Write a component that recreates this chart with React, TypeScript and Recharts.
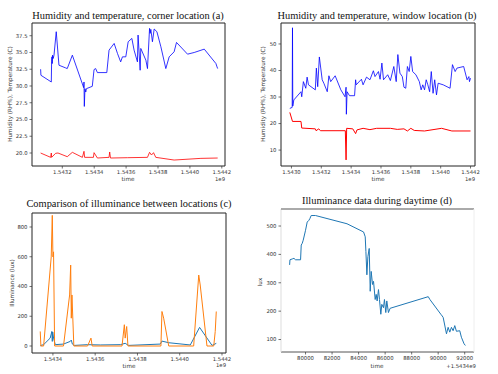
import React from "react";
import { LineChart, Line, XAxis, YAxis } from "recharts";

// (a) corner location
const cornerHumTime = [
  1543064000, 1543066000, 1543131000, 1543133000, 1543135000, 1543137000, 1543139000, 1543143000,
  1543148000, 1543162000, 1543179000, 1543221000, 1543231000, 1543263000, 1543334000, 1543336000,
  1543338000, 1543342000, 1543347000, 1543351000, 1543388000, 1543399000, 1543409000, 1543420000,
  1543479000, 1543493000, 1543525000, 1543546000, 1543566000, 1543577000, 1543598000, 1543613000,
  1543636000, 1543650000, 1543671000, 1543675000, 1543688000, 1543692000, 1543724000, 1543734000,
  1543747000, 1543751000, 1543755000, 1543765000, 1543776000, 1543793000, 1543818000, 1543849000,
  1543870000, 1543901000, 1543916000, 1543985000, 1544027000, 1544090000, 1544163000, 1544170000,
  1544174000,
];
const cornerHum = [
  32.5, 31.6, 30.6, 33.6, 34.35, 33.35, 34.6, 34.1, 34.6, 38.1, 33.1, 32.7, 32.6, 34.6, 29.75, 30.6,
  26.95, 29.6, 29.1, 29.6, 29.95, 32.45, 32.6, 32.0, 32.0, 35.35, 36.35, 34.85, 33.6, 34.35, 34.35,
  36.6, 37.1, 35.35, 33.6, 37.6, 32.35, 35.6, 33.85, 32.6, 38.6, 37.85, 38.45, 36.6, 38.5, 38.1, 35.85,
  32.6, 34.35, 35.1, 36.5, 34.75, 35.0, 35.5, 33.35, 32.85, 32.6,
];
const cornerTempTime = [
  1543064000, 1543127000, 1543131000, 1543133000, 1543158000, 1543173000, 1543231000, 1543263000,
  1543326000, 1543336000, 1543340000, 1543395000, 1543399000, 1543420000, 1543493000, 1543497000,
  1543502000, 1543608000, 1543734000, 1543747000, 1543759000, 1543772000, 1543786000, 1543901000,
  1544069000, 1544174000,
];
const cornerTemp = [
  20.0, 19.35, 20.0, 19.35, 19.95, 20.0, 19.45, 20.1, 19.35, 20.25, 19.35, 19.35, 20.05, 19.25, 19.35,
  20.15, 19.25, 19.3, 19.35, 20.1, 19.7, 20.05, 19.35, 18.95, 19.2, 19.25,
];

// (b) window location
const windowHumTime = [
  1542989000, 1543005000, 1543007000, 1543009000, 1543016000, 1543064000, 1543069000, 1543080000,
  1543096000, 1543105000, 1543114000, 1543160000, 1543167000, 1543176000, 1543187000, 1543206000,
  1543217000, 1543240000, 1543251000, 1543263000, 1543293000, 1543331000, 1543359000, 1543366000,
  1543368000, 1543373000, 1543389000, 1543423000, 1543430000, 1543434000, 1543469000, 1543480000,
  1543503000, 1543526000, 1543549000, 1543560000, 1543583000, 1543594000, 1543606000, 1543617000,
  1543645000, 1543663000, 1543686000, 1543702000, 1543713000, 1543727000, 1543743000, 1543754000,
  1543766000, 1543777000, 1543789000, 1543800000, 1543812000, 1543834000, 1543857000, 1543869000,
  1543880000, 1543892000, 1543903000, 1543914000, 1543926000, 1543937000, 1543949000, 1543960000,
  1543972000, 1543983000, 1544017000, 1544063000, 1544079000, 1544097000, 1544109000, 1544154000,
  1544177000, 1544189000, 1544193000, 1544200000,
];
const windowHum = [
  25.7, 26.1, 56.1, 26.6, 28.9, 32.0, 30.1, 35.8, 33.3, 37.5, 34.6, 32.7, 40.9, 33.9, 45.1, 36.5, 35.2,
  32.0, 38.0, 35.8, 38.0, 32.7, 30.1, 33.7, 23.5, 32.0, 30.5, 30.5, 36.5, 34.6, 36.7, 34.6, 37.5, 36.5,
  39.9, 37.7, 39.6, 36.7, 42.8, 36.5, 38.4, 36.2, 41.5, 35.8, 46.0, 39.0, 37.7, 33.7, 33.3, 41.5, 39.6,
  45.3, 39.6, 38.4, 35.8, 32.7, 34.6, 32.7, 36.5, 34.6, 32.0, 39.6, 31.4, 36.5, 30.8, 35.2, 34.6, 33.3,
  42.2, 39.6, 40.9, 41.5, 36.5, 37.7, 35.8, 37.1,
];
const windowTempTime = [
  1542989000, 1543007000, 1543064000, 1543069000, 1543160000, 1543165000, 1543183000, 1543194000,
  1543361000, 1543366000, 1543370000, 1543411000, 1543430000, 1543439000, 1543480000, 1543526000,
  1543571000, 1543663000, 1543709000, 1543754000, 1543777000, 1543800000, 1543823000, 1543892000,
  1544006000, 1544075000, 1544200000,
];
const windowTemp = [
  24.2, 20.8, 20.8, 18.3, 18.0, 17.3, 18.0, 17.3, 17.3, 6.3, 18.2, 18.0, 16.2, 17.6, 18.2, 17.7, 18.2,
  18.2, 17.8, 18.0, 17.2, 18.2, 17.4, 17.2, 18.2, 17.2, 17.2,
];

// (c) illuminance comparison
const cornerLuxTime = [
  1543340000, 1543343000, 1543356000, 1543387000, 1543395000, 1543397000, 1543399000, 1543403000,
  1543411000, 1543450000, 1543482000, 1543487000, 1543492000, 1543501000, 1543564000, 1543624000,
  1543719000, 1543742000, 1543758000, 1543908000, 1543916000, 1543948000, 1544050000, 1544094000,
  1544153000, 1544173000,
];
const cornerLux = [0, 4, 9, 53, 98, 31, 94, 53, 9, 13, 31, 40, 13, 4, 9, 7, 9, 18, 4, 13, 33, 22, 7, 125, 4, 18];
const windowLuxTime = [
  1543340000, 1543343000, 1543356000, 1543392000, 1543397000, 1543400000, 1543403000, 1543408000,
  1543450000, 1543479000, 1543484000, 1543487000, 1543490000, 1543499000, 1543564000, 1543580000,
  1543586000, 1543727000, 1543738000, 1543742000, 1543749000, 1543755000, 1543911000, 1543916000,
  1543924000, 1543948000, 1544066000, 1544090000, 1544097000, 1544129000, 1544161000, 1544168000,
  1544173000,
];
const windowLux = [
  98, 0, 0, 599, 878, 599, 633, 0, 0, 343, 544, 187, 343, 0, 0, 53, 0, 0, 143, 53, 131, 0, 0, 232, 187,
  0, 0, 477, 410, 0, 0, 98, 232,
];

// (d) daytime illuminance, seconds after 1.5434e9
const dayTime = [
  78800, 78825, 79000, 79125, 79250, 79625, 79675, 79750, 79825, 80000, 80125, 80250, 80325, 80425,
  80750, 83125, 84375, 84500, 84550, 84625, 84700, 84800, 84875, 84950, 85050, 85125, 85250, 85325,
  85400, 85500, 85575, 85675, 85750, 85875, 85950, 86050, 86125, 86250, 86375, 89250, 89375, 90200,
  90300, 90375, 90625, 90750, 90875, 91000, 91125, 91250, 91375, 91625, 91750, 91950, 92050,
];
const dayLux = [
  363, 381, 384, 386, 381, 381, 433, 439, 450, 485, 514, 520, 526, 537, 537, 508, 479, 462, 410, 328,
  392, 421, 270, 340, 294, 305, 241, 259, 236, 276, 241, 189, 224, 212, 241, 195, 236, 195, 210, 251,
  241, 189, 183, 178, 120, 143, 126, 143, 131, 149, 129, 131, 108, 85, 79,
];

const timeTicks = [1543000000, 1543200000, 1543400000, 1543600000, 1543800000, 1544000000, 1544200000];
const cornerHTicks = [20, 22.5, 25, 27.5, 30, 32.5, 35, 37.5];
const windowHTicks = [10, 20, 30, 40, 50];
const luxTicks = [0, 200, 400, 600, 800];
const dayTicks = [80000, 82000, 84000, 86000, 88000, 90000, 92000];
const dayLuxTicks = [100, 200, 300, 400, 500];

const pts = (t: number[], v: number[]) => t.map((x, i) => ({ t: x, v: v[i] }));
const fmtT = (v: number) => (v / 1e9).toFixed(4);
const fmtA = (v: number) => v.toFixed(1);
const fmtI = (v: number) => String(v);

const W = 249;
const H = 187;
const YW = 32;
const XH = 21;
const TICK = { fontSize: 5.3, fill: "#333", fontFamily: "DejaVu Sans" };

type Series = { data: { t: number; v: number }[]; color: string; width?: number };
type Frame = { top: string; right: string; left: string; bottom: string; topW: number };

function Panel(props: {
  left: number;
  top: number;
  margin: { top: number; right: number; left: number; bottom: number };
  xDomain: [number, number];
  yDomain: [number, number];
  xTicks: number[];
  yTicks: number[];
  fmtX: (v: number) => string;
  fmtY: (v: number) => string;
  series: Series[];
  frame?: Frame;
}) {
  const f = props.frame || { top: "#222", right: "#222", left: "#222", bottom: "#222", topW: 1 };
  const m = props.margin;
  const plotW = W - m.left - YW - m.right;
  const plotH = H - m.top - XH - m.bottom;
  return (
    <div style={{ position: "absolute", left: props.left, top: props.top, width: W, height: H }}>
      <LineChart width={W} height={H} margin={m}>
        <XAxis
          dataKey="t"
          type="number"
          domain={props.xDomain}
          ticks={props.xTicks}
          tickFormatter={props.fmtX}
          allowDataOverflow
          height={XH}
          tickSize={2.5}
          tickMargin={1.5}
          tick={TICK}
          axisLine={{ stroke: f.bottom, strokeWidth: 1 }}
          tickLine={{ stroke: "#333", strokeWidth: 0.7 }}
          interval={0}
        />
        <YAxis
          type="number"
          domain={props.yDomain}
          ticks={props.yTicks}
          tickFormatter={props.fmtY}
          allowDataOverflow
          width={YW}
          tickSize={2.5}
          tickMargin={2}
          tick={TICK}
          axisLine={{ stroke: f.left, strokeWidth: 1 }}
          tickLine={{ stroke: "#333", strokeWidth: 0.7 }}
          interval={0}
        />
        {props.series.map((s, i) => (
          <Line
            key={i}
            data={s.data}
            dataKey="v"
            type="linear"
            stroke={s.color}
            strokeWidth={s.width ?? 0.8}
            dot={false}
            isAnimationActive={false}
          />
        ))}
      </LineChart>
      {/* top and right spines */}
      <svg
        width={W}
        height={H}
        style={{ position: "absolute", left: 0, top: 0, pointerEvents: "none", overflow: "visible" }}
      >
        <line x1={m.left + YW} x2={m.left + YW + plotW} y1={m.top} y2={m.top} stroke={f.top} strokeWidth={f.topW} />
        <line
          x1={m.left + YW + plotW}
          x2={m.left + YW + plotW}
          y1={m.top}
          y2={m.top + plotH}
          stroke={f.right}
          strokeWidth={1}
        />
      </svg>
    </div>
  );
}

function Txt(props: { x: number; y: number; text: string; size: number; serif?: boolean; rotate?: boolean; color?: string }) {
  return (
    <div
      style={{
        position: "absolute",
        left: props.x,
        top: props.y,
        transform: `translate(-50%, -50%)${props.rotate ? " rotate(-90deg)" : ""}`,
        whiteSpace: "nowrap",
        fontSize: props.size,
        lineHeight: 1,
        color: props.color || (props.serif ? "#111" : "#333"),
        fontFamily: props.serif ? "'Liberation Serif', serif" : "'DejaVu Sans', sans-serif",
      }}
    >
      {props.text}
    </div>
  );
}

export default function App() {
  return (
    <div style={{ position: "absolute", left: 0, top: 0, width: 498, height: 374, background: "#fff", overflow: "hidden" }}>
      <Panel
        left={0}
        top={0}
        margin={{ top: 23, right: 24, left: 0, bottom: 0 }}
        xDomain={[1543010000, 1544220000]}
        yDomain={[18.06, 39.4]}
        xTicks={timeTicks.slice(1)}
        yTicks={cornerHTicks}
        fmtX={fmtT}
        fmtY={fmtA}
        series={[
          { data: pts(cornerHumTime, cornerHum), color: "#0000ff" },
          { data: pts(cornerTempTime, cornerTemp), color: "#ff0000" },
        ]}
      />
      <Panel
        left={249}
        top={0}
        margin={{ top: 23, right: 23, left: 0, bottom: 0 }}
        xDomain={[1542930000, 1544230000]}
        yDomain={[4, 57.9]}
        xTicks={timeTicks}
        yTicks={windowHTicks}
        fmtX={fmtT}
        fmtY={fmtI}
        series={[
          { data: pts(windowHumTime, windowHum), color: "#0000ff" },
          { data: pts(windowTempTime, windowTemp), color: "#ff0000", width: 1 },
        ]}
      />
      <Panel
        left={0}
        top={187}
        margin={{ top: 26, right: 23, left: 0, bottom: 0 }}
        xDomain={[1543301000, 1544219000]}
        yDomain={[-47, 894]}
        xTicks={timeTicks.slice(2)}
        yTicks={luxTicks}
        fmtX={fmtT}
        fmtY={fmtI}
        series={[
          { data: pts(cornerLuxTime, cornerLux), color: "#1f77b4", width: 1 },
          { data: pts(windowLuxTime, windowLux), color: "#ff7f0e", width: 1 },
        ]}
      />
      <Panel
        left={249}
        top={187}
        margin={{ top: 22, right: 24, left: 0, bottom: 1 }}
        xDomain={[78150, 92700]}
        yDomain={[56, 560]}
        xTicks={dayTicks}
        yTicks={dayLuxTicks}
        fmtX={fmtI}
        fmtY={fmtI}
        series={[{ data: pts(dayTime, dayLux), color: "#1f77b4", width: 1 }]}
        frame={{ top: "#aaaaaa", right: "#eeeeee", left: "#dddddd", bottom: "#555555", topW: 2 }}
      />

      <Txt x={128} y={16} text="Humidity and temperature, corner location (a)" size={10.4} serif />
      <Txt x={377} y={16} text="Humidity and temperature, window location (b)" size={10.4} serif />
      <Txt x={129} y={204} text="Comparison of illuminance between locations (c)" size={10.4} serif />
      <Txt x={377} y={201} text="Illuminance data during daytime (d)" size={10.4} serif />

      <Txt x={11} y={94} text="Humidity (RH%), Temperature (C)" size={5.7} rotate />
      <Txt x={264} y={94} text="Humidity (RH%), Temperature (C)" size={5.7} rotate />
      <Txt x={13} y={283} text="Illuminance (lux)" size={5.7} rotate />
      <Txt x={261} y={282} text="lux" size={5.7} rotate />

      <Txt x={128} y={180} text="time" size={5.7} />
      <Txt x={378} y={180} text="time" size={5.7} />
      <Txt x={129} y={367} text="time" size={5.7} />
      <Txt x={377} y={367} text="time" size={5.7} />

      <Txt x={220} y={180} text="1e9" size={5.3} />
      <Txt x={470} y={180} text="1e9" size={5.3} />
      <Txt x={221} y={366} text="1e9" size={5.3} />
      <Txt x={461} y={367} text="+1.5434e9" size={5.3} />
    </div>
  );
}
